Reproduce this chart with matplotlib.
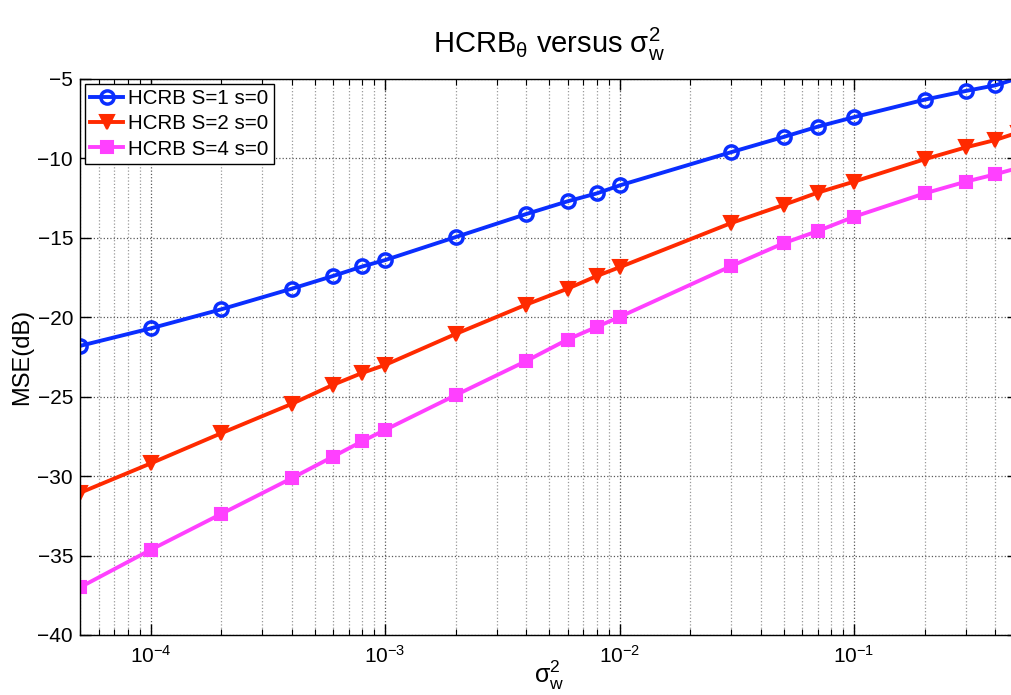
import matplotlib
matplotlib.use("Agg")
import matplotlib.pyplot as plt
from matplotlib.ticker import LogLocator, FixedLocator, NullFormatter

plt.rcParams['font.family'] = ['Liberation Sans', 'DejaVu Sans']
plt.rcParams['mathtext.fontset'] = 'custom'
plt.rcParams['mathtext.rm'] = 'Liberation Sans'
plt.rcParams['mathtext.it'] = 'Liberation Sans:italic'
plt.rcParams['mathtext.default'] = 'regular'

sigma_w2 = [5e-5, 1e-4, 2e-4, 4e-4, 6e-4, 8e-4, 1e-3, 2e-3, 4e-3, 6e-3, 8e-3,
            1e-2, 3e-2, 5e-2, 7e-2, 1e-1, 2e-1, 3e-1, 4e-1, 5e-1]
hcrb_S1 = [-21.8, -20.7, -19.5, -18.2, -17.4, -16.8, -16.4, -14.95, -13.5, -12.7, -12.2,
           -11.7, -9.6, -8.65, -8.0, -7.4, -6.3, -5.75, -5.4, -4.95]
hcrb_S2 = [-31.05, -29.2, -27.3, -25.45, -24.25, -23.5, -23.0, -21.05, -19.2, -18.2, -17.4,
           -16.85, -14.06, -12.93, -12.15, -11.46, -10.05, -9.3, -8.84, -8.37]
hcrb_S4 = [-37.0, -34.64, -32.38, -30.13, -28.77, -27.8, -27.09, -24.9, -22.75, -21.4, -20.6,
           -19.98, -16.77, -15.34, -14.57, -13.67, -12.2, -11.46, -11.0, -10.6]
labels = ['HCRB S=1 s=0', 'HCRB S=2 s=0', 'HCRB S=4 s=0']
yticks = [-40, -35, -30, -25, -20, -15, -10, -5]

fig = plt.figure(figsize=(10.11, 6.95), dpi=100)
ax = fig.add_axes([80/1011, 60/695, 938/1011, 556/695])

ax.plot(sigma_w2, hcrb_S1, color='#0a2eff', lw=2.8, marker='o', ms=9.5,
        mfc='none', mew=2.5, label=labels[0])
ax.plot(sigma_w2, hcrb_S2, color='#ff2a00', lw=2.8, marker='v', ms=10.5,
        mfc='#ff2a00', mew=1.5, label=labels[1])
ax.plot(sigma_w2, hcrb_S4, color='#ff40ff', lw=2.8, marker='s', ms=8,
        mfc='#ff40ff', mew=1.5, label=labels[2])

ax.set_xscale('log')
ax.set_xlim(5e-5, 0.5)
ax.set_ylim(-40, -5)
ax.yaxis.set_major_locator(FixedLocator(yticks))
ax.xaxis.set_major_locator(LogLocator(base=10, numticks=20))
ax.xaxis.set_minor_locator(LogLocator(base=10, subs=range(2, 10), numticks=50))
ax.xaxis.set_minor_formatter(NullFormatter())

ax.grid(True, which='major', axis='both', linestyle=':', color='0.35', lw=0.9)
ax.grid(True, which='minor', axis='x', linestyle=':', color='0.6', lw=0.9)

ax.tick_params(which='both', direction='in', top=True, right=True, labelsize=15)
ax.tick_params(which='major', length=8, width=1)
ax.tick_params(which='minor', length=4, width=0.8)
ax.tick_params(axis='x', which='major', pad=7)
ax.tick_params(axis='y', which='major', pad=5)
for s in ax.spines.values():
    s.set_linewidth(1.0)

ax.set_title(r'HCRB$_{\theta}$ versus $\sigma_{w}^{2}$', fontsize=21, pad=19)
ax.set_xlabel(r'$\sigma_{w}^{2}$', fontsize=18, labelpad=-6)
ax.set_ylabel('MSE(dB)', fontsize=17, labelpad=3)

leg = ax.legend(loc='upper left', fontsize=14.8, frameon=True, fancybox=False,
                edgecolor='black', borderaxespad=0.25, handlelength=1.6,
                borderpad=0.25, labelspacing=0.3, handletextpad=0.25)
leg.get_frame().set_linewidth(1.0)
leg.get_frame().set_alpha(1)

fig.savefig('out.png', dpi=100)
